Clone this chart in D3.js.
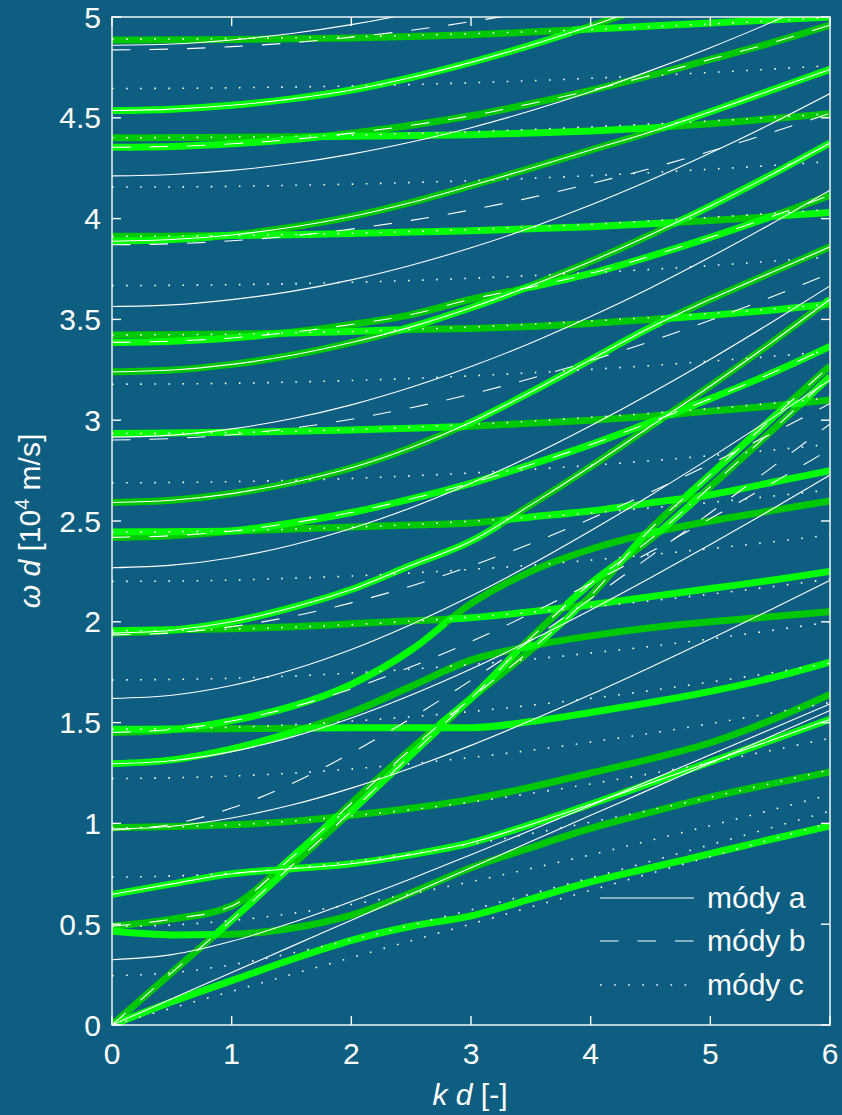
<!DOCTYPE html>
<html>
<head>
<meta charset="utf-8">
<script src="https://cdn.jsdelivr.net/npm/d3@7"></script>
<style>
  html, body { margin: 0; padding: 0; background: #0d5e81; }
  svg { display: block; }
  text { font-family: "Liberation Sans", Arial, Helvetica, sans-serif; fill: #ffffff; }
</style>
</head>
<body>
<svg id="chart" width="842" height="1115"></svg>
<script>
// ---------------- data ----------------
const kTicks = [0, 1, 2, 3, 4, 5, 6];
const wTicks = [0, 0.5, 1, 1.5, 2, 2.5, 3, 3.5, 4, 4.5, 5];
const wTickLabels = ["0", "0.5", "1", "1.5", "2", "2.5", "3", "3.5", "4", "4.5", "5"];
const legendLabels = ["módy a", "módy b", "módy c"];

// every branch is sampled at these k d values
const kCols = [0, 0.5, 1, 1.5, 2, 2.5, 3, 3.5, 4, 4.5, 5, 5.5, 6];

// uncoupled branches (ω d)
const modesA = [
  [0, 0.13, 0.26, 0.39, 0.52, 0.65, 0.78, 0.91, 1.04, 1.17, 1.30, 1.43, 1.56],
  [0.324, 0.349, 0.415, 0.507, 0.613, 0.726, 0.845, 0.966, 1.089, 1.214, 1.340, 1.466, 1.593],
  [0.648, 0.70, 0.75, 0.775, 0.80, 0.845, 0.904, 0.995, 1.095, 1.20, 1.305, 1.41, 1.516],
  [0.972, 0.986, 1.027, 1.091, 1.175, 1.275, 1.387, 1.51, 1.639, 1.775, 1.915, 2.059, 2.206],
  [1.296, 1.311, 1.356, 1.428, 1.523, 1.637, 1.766, 1.908, 2.059, 2.218, 2.383, 2.553, 2.728],
  [1.62, 1.636, 1.684, 1.761, 1.863, 1.987, 2.128, 2.284, 2.452, 2.628, 2.813, 3.004, 3.2],
  [1.944, 1.958, 2.0, 2.07, 2.16, 2.28, 2.40, 2.58, 2.77, 2.97, 3.17, 3.38, 3.60],
  [2.268, 2.281, 2.318, 2.38, 2.463, 2.566, 2.687, 2.822, 2.972, 3.132, 3.302, 3.481, 3.666],
  [2.592, 2.603, 2.636, 2.69, 2.764, 2.865, 2.99, 3.14, 3.30, 3.46, 3.60, 3.73, 3.86],
  [2.916, 2.926, 2.957, 3.007, 3.076, 3.163, 3.266, 3.383, 3.514, 3.656, 3.809, 3.971, 4.141],
  [3.24, 3.249, 3.277, 3.322, 3.385, 3.463, 3.558, 3.667, 3.787, 3.92, 4.062, 4.215, 4.375],
  [3.564, 3.572, 3.598, 3.639, 3.696, 3.769, 3.855, 3.955, 4.067, 4.191, 4.325, 4.468, 4.62],
  [3.888, 3.896, 3.919, 3.957, 4.01, 4.08, 4.163, 4.25, 4.34, 4.43, 4.53, 4.635, 4.74],
  [4.212, 4.219, 4.239, 4.273, 4.32, 4.38, 4.451, 4.535, 4.629, 4.734, 4.848, 4.971, 5.102],
  [4.536, 4.543, 4.562, 4.594, 4.638, 4.70, 4.775, 4.86, 4.955, 5.06, 5.17, 5.29, 5.41],
  [4.86, 4.866, 4.886, 4.918, 4.962, 5.018, 5.086, 5.166, 5.255, 5.355, 5.465, 5.584, 5.711]
];
const modesB = [
  [0, 0.26, 0.52, 0.79, 1.06, 1.34, 1.62, 1.92, 2.19, 2.41, 2.67, 2.94, 3.216],
  [0.49, 0.525, 0.59, 0.83, 1.10, 1.37, 1.62, 1.86, 2.13, 2.46, 2.73, 3.0, 3.27],
  [0.967, 0.996, 1.076, 1.197, 1.349, 1.522, 1.71, 1.908, 2.114, 2.326, 2.541, 2.76, 2.981],
  [1.451, 1.466, 1.508, 1.576, 1.667, 1.777, 1.902, 2.041, 2.19, 2.347, 2.512, 2.682, 2.856],
  [1.935, 1.945, 1.976, 2.026, 2.094, 2.178, 2.277, 2.388, 2.511, 2.643, 2.783, 2.93, 3.083],
  [2.419, 2.427, 2.45, 2.49, 2.542, 2.61, 2.687, 2.78, 2.879, 2.99, 3.107, 3.23, 3.366],
  [2.902, 2.909, 2.928, 2.96, 3.005, 3.062, 3.129, 3.207, 3.295, 3.391, 3.496, 3.609, 3.728],
  [3.386, 3.392, 3.408, 3.436, 3.475, 3.524, 3.60, 3.66, 3.728, 3.814, 3.907, 4.008, 4.116],
  [3.87, 3.875, 3.89, 3.914, 3.948, 3.991, 4.043, 4.104, 4.173, 4.249, 4.334, 4.425, 4.522],
  [4.354, 4.358, 4.371, 4.392, 4.424, 4.463, 4.51, 4.57, 4.636, 4.71, 4.79, 4.87, 4.96],
  [4.837, 4.841, 4.853, 4.872, 4.9, 4.934, 4.977, 5.026, 5.082, 5.146, 5.215, 5.291, 5.373]
];
const modesC = [
  [0, 0.084, 0.167, 0.251, 0.334, 0.418, 0.501, 0.585, 0.668, 0.752, 0.835, 0.919, 1.002],
  [0.2445, 0.259, 0.299, 0.356, 0.422, 0.495, 0.571, 0.65, 0.73, 0.812, 0.894, 0.977, 1.061],
  [0.489, 0.496, 0.518, 0.553, 0.598, 0.651, 0.711, 0.776, 0.844, 0.916, 0.989, 1.065, 1.142],
  [0.7335, 0.739, 0.753, 0.778, 0.81, 0.85, 0.897, 0.949, 1.006, 1.066, 1.13, 1.197, 1.266],
  [0.978, 0.982, 0.993, 1.011, 1.037, 1.068, 1.106, 1.149, 1.196, 1.247, 1.302, 1.361, 1.422],
  [1.2225, 1.226, 1.235, 1.249, 1.27, 1.296, 1.327, 1.363, 1.403, 1.447, 1.495, 1.546, 1.6],
  [1.467, 1.47, 1.477, 1.489, 1.507, 1.529, 1.555, 1.586, 1.62, 1.659, 1.701, 1.746, 1.794],
  [1.7115, 1.714, 1.72, 1.731, 1.746, 1.765, 1.788, 1.814, 1.845, 1.878, 1.915, 1.956, 1.999],
  [1.956, 1.958, 1.964, 1.973, 1.986, 2.003, 2.023, 2.047, 2.074, 2.104, 2.137, 2.173, 2.212],
  [2.2005, 2.202, 2.207, 2.216, 2.227, 2.242, 2.26, 2.281, 2.306, 2.333, 2.363, 2.395, 2.431],
  [2.445, 2.447, 2.451, 2.459, 2.469, 2.483, 2.499, 2.518, 2.54, 2.565, 2.592, 2.622, 2.654],
  [2.6895, 2.691, 2.695, 2.702, 2.711, 2.724, 2.738, 2.756, 2.776, 2.799, 2.824, 2.851, 2.881],
  [2.934, 2.935, 2.939, 2.945, 2.954, 2.965, 2.979, 2.995, 3.014, 3.034, 3.057, 3.083, 3.11],
  [3.1785, 3.18, 3.183, 3.189, 3.197, 3.207, 3.22, 3.235, 3.252, 3.271, 3.293, 3.316, 3.342],
  [3.423, 3.424, 3.427, 3.433, 3.44, 3.45, 3.462, 3.476, 3.492, 3.509, 3.529, 3.551, 3.575],
  [3.6675, 3.669, 3.672, 3.677, 3.684, 3.693, 3.704, 3.717, 3.732, 3.748, 3.767, 3.788, 3.81],
  [3.912, 3.913, 3.916, 3.921, 3.927, 3.936, 3.946, 3.958, 3.972, 3.988, 4.006, 4.025, 4.046],
  [4.1565, 4.157, 4.16, 4.165, 4.171, 4.179, 4.188, 4.2, 4.213, 4.228, 4.245, 4.263, 4.283],
  [4.401, 4.402, 4.404, 4.408, 4.414, 4.422, 4.431, 4.442, 4.455, 4.469, 4.484, 4.501, 4.52],
  [4.6455, 4.646, 4.649, 4.653, 4.658, 4.665, 4.674, 4.684, 4.696, 4.709, 4.725, 4.741, 4.759],
  [4.89, 4.891, 4.893, 4.897, 4.902, 4.909, 4.917, 4.927, 4.938, 4.951, 4.965, 4.981, 4.998]
];

// coupled branches (ω d); class 0 / 1 alternates with the mode order,
// so a branch changes class wherever it meets another branch
const branchValues = [
  [0, 0.115, 0.22, 0.325, 0.42, 0.49, 0.541, 0.625, 0.71, 0.78, 0.85, 0.92, 0.987],
  [0, 0.26, 0.52, 0.79, 1.06, 1.34, 1.62, 1.92, 2.19, 2.41, 2.67, 2.94, 3.216],
  [0.466, 0.447, 0.45, 0.48, 0.545, 0.655, 0.78, 0.88, 0.975, 1.055, 1.13, 1.195, 1.255],
  [0.49, 0.525, 0.59, 0.83, 1.10, 1.37, 1.62, 1.86, 2.13, 2.46, 2.73, 3.0, 3.27],
  [0.648, 0.70, 0.75, 0.775, 0.80, 0.845, 0.904, 0.995, 1.095, 1.20, 1.305, 1.41, 1.516],
  [0.978, 0.985, 0.993, 1.01, 1.04, 1.075, 1.119, 1.18, 1.25, 1.32, 1.40, 1.51, 1.64],
  [1.296, 1.315, 1.37, 1.45, 1.55, 1.68, 1.81, 1.88, 1.93, 1.97, 2.0, 2.025, 2.05],
  [1.451, 1.465, 1.51, 1.58, 1.69, 1.86, 2.09, 2.25, 2.36, 2.44, 2.50, 2.55, 2.60],
  [1.467, 1.468, 1.47, 1.472, 1.474, 1.475, 1.475, 1.505, 1.55, 1.60, 1.655, 1.72, 1.80],
  [1.944, 1.958, 2.0, 2.07, 2.16, 2.28, 2.40, 2.58, 2.77, 2.97, 3.17, 3.38, 3.60],
  [1.956, 1.96, 1.965, 1.975, 1.99, 2.005, 2.02, 2.05, 2.085, 2.125, 2.165, 2.205, 2.25],
  [2.419, 2.427, 2.45, 2.49, 2.542, 2.61, 2.687, 2.78, 2.879, 2.99, 3.107, 3.23, 3.366],
  [2.445, 2.447, 2.45, 2.46, 2.47, 2.48, 2.49, 2.52, 2.55, 2.59, 2.63, 2.69, 2.75],
  [2.592, 2.603, 2.636, 2.69, 2.764, 2.865, 2.99, 3.14, 3.30, 3.46, 3.60, 3.73, 3.86],
  [2.934, 2.936, 2.94, 2.945, 2.952, 2.96, 2.97, 2.985, 3.0, 3.02, 3.045, 3.07, 3.10],
  [3.24, 3.249, 3.277, 3.322, 3.385, 3.463, 3.558, 3.667, 3.787, 3.92, 4.062, 4.215, 4.375],
  [3.386, 3.392, 3.408, 3.436, 3.475, 3.524, 3.60, 3.66, 3.728, 3.814, 3.907, 4.008, 4.116],
  [3.423, 3.424, 3.427, 3.432, 3.44, 3.45, 3.455, 3.465, 3.48, 3.50, 3.52, 3.545, 3.575],
  [3.888, 3.896, 3.919, 3.957, 4.01, 4.08, 4.163, 4.25, 4.34, 4.43, 4.53, 4.635, 4.74],
  [3.912, 3.913, 3.916, 3.92, 3.926, 3.933, 3.94, 3.95, 3.96, 3.975, 3.99, 4.01, 4.03],
  [4.354, 4.358, 4.371, 4.392, 4.424, 4.463, 4.51, 4.57, 4.636, 4.71, 4.79, 4.87, 4.96],
  [4.401, 4.402, 4.404, 4.406, 4.409, 4.412, 4.416, 4.425, 4.435, 4.45, 4.47, 4.495, 4.52],
  [4.536, 4.543, 4.562, 4.594, 4.638, 4.70, 4.775, 4.86, 4.955, 5.06, 5.17, 5.29, 5.41],
  [4.886, 4.887, 4.889, 4.892, 4.896, 4.903, 4.912, 4.925, 4.94, 4.955, 4.97, 4.985, 5.0]
];
const branchStartClass = [0, 1, 0, 1, 0, 1, 0, 1, 0, 1, 0, 1, 0, 1, 0, 1, 0, 1, 0, 1, 0, 1, 0, 1];
const branchSwaps = [
  [],
  [0.86, 1.47, 1.96, 2.74, 3.0, 3.41, 3.78, 4.25, 4.58, 4.91, 5.76],
  [0.86],
  [1.37, 1.87, 2.71, 3.0, 3.55, 3.9, 4.25, 4.46, 4.78, 5.65],
  [1.37, 1.47],
  [1.87, 1.96],
  [1.6, 3.41, 3.55],
  [0.6, 2.8, 4.46, 4.58],
  [0.6, 1.6, 2.71, 2.74],
  [0.53, 3.25, 4.55, 4.6, 5.95],
  [0.53, 2.8, 3.78, 3.9],
  [1.0, 4.55, 4.7],
  [1.0, 3.25, 4.78, 4.91],
  [2.95, 4.6],
  [2.95, 4.6, 4.7, 5.65, 5.76],
  [2.4, 3.48, 4.7],
  [1.4, 3.48, 5.5],
  [1.4, 2.4, 4.6, 5.95],
  [0.85, 4.6],
  [0.85, 4.7, 5.5],
  [1.75],
  [1.75, 4.6],
  [3.85],
  [3.85]
];

// ---------------- layout ----------------
const svg = d3.select("#chart");
const plot = { left: 112, right: 830, top: 17, bottom: 1025 };
const x = d3.scaleLinear().domain([0, 6]).range([plot.left, plot.right]);
const y = d3.scaleLinear().domain([0, 5]).range([plot.bottom, plot.top]);
const classColor = ["#00ff00", "#00c800"];

svg.append("rect").attr("width", 842).attr("height", 1115).attr("fill", "#0d5e81");
const defs = svg.append("defs");
defs.append("clipPath").attr("id", "plotClip")
  .append("rect")
  .attr("x", plot.left).attr("y", plot.top)
  .attr("width", plot.right - plot.left).attr("height", plot.bottom - plot.top);

const sampled = d3.line()
  .x((d, i) => x(kCols[i]))
  .y(d => y(d))
  .curve(d3.curveMonotoneX);

// ---- coupled branches: thick green, split where the class changes ----
const pieces = [];
branchValues.forEach((vals, i) => {
  const bounds = [0, ...branchSwaps[i], 6];
  for (let s = 0; s < bounds.length - 1; s++) {
    pieces.push({
      vals,
      k0: bounds[s],
      k1: bounds[s + 1],
      cls: (branchStartClass[i] + s) % 2,
      id: `piece-${i}-${s}`
    });
  }
});
pieces.forEach(p => {
  defs.append("clipPath").attr("id", p.id).append("rect")
    .attr("x", x(p.k0)).attr("y", plot.top)
    .attr("width", x(p.k1) - x(p.k0)).attr("height", plot.bottom - plot.top);
});
const gBranches = svg.append("g");
[1, 0].forEach(cls => {
  pieces.filter(p => p.cls === cls).forEach(p => {
    gBranches.append("path")
      .attr("d", sampled(p.vals))
      .attr("clip-path", `url(#${p.id})`)
      .attr("fill", "none")
      .attr("stroke", classColor[cls])
      .attr("stroke-width", 7);
  });
});

// ---- uncoupled branches: thin white ----
const gModes = svg.append("g").attr("clip-path", "url(#plotClip)");
gModes.selectAll("path.ma").data(modesA).join("path")
  .attr("class", "ma").attr("d", sampled)
  .attr("fill", "none").attr("stroke", "#ffffff").attr("stroke-width", 1.1);
gModes.selectAll("path.mb").data(modesB).join("path")
  .attr("class", "mb").attr("d", sampled)
  .attr("fill", "none").attr("stroke", "#ffffff").attr("stroke-width", 1.1)
  .attr("stroke-dasharray", "18.5,19");
gModes.selectAll("path.mc").data(modesC).join("path")
  .attr("class", "mc").attr("d", sampled)
  .attr("fill", "none").attr("stroke", "#ffffff").attr("stroke-width", 1.6)
  .attr("stroke-dasharray", "1.6,12.5");

// ---------------- axes ----------------
const axisColor = "#ffffff";
const tickLen = 9;
const frame = svg.append("g");
frame.append("rect")
  .attr("x", plot.left).attr("y", plot.top)
  .attr("width", plot.right - plot.left).attr("height", plot.bottom - plot.top)
  .attr("fill", "none").attr("stroke", axisColor).attr("stroke-width", 1.4);

kTicks.forEach(k => {
  frame.append("line").attr("x1", x(k)).attr("x2", x(k))
    .attr("y1", plot.bottom).attr("y2", plot.bottom - tickLen)
    .attr("stroke", axisColor).attr("stroke-width", 1.4);
  frame.append("line").attr("x1", x(k)).attr("x2", x(k))
    .attr("y1", plot.top).attr("y2", plot.top + tickLen)
    .attr("stroke", axisColor).attr("stroke-width", 1.4);
  frame.append("text").attr("x", x(k)).attr("y", 1064)
    .attr("text-anchor", "middle").attr("font-size", 30).text(k);
});
wTicks.forEach((w, i) => {
  frame.append("line").attr("x1", plot.left).attr("x2", plot.left + tickLen)
    .attr("y1", y(w)).attr("y2", y(w))
    .attr("stroke", axisColor).attr("stroke-width", 1.4);
  frame.append("line").attr("x1", plot.right).attr("x2", plot.right - tickLen)
    .attr("y1", y(w)).attr("y2", y(w))
    .attr("stroke", axisColor).attr("stroke-width", 1.4);
  frame.append("text").attr("x", 101).attr("y", y(w) + 10.5)
    .attr("text-anchor", "end").attr("font-size", 30).text(wTickLabels[i]);
});

// axis titles
const xt = svg.append("text").attr("x", 470).attr("y", 1105)
  .attr("text-anchor", "middle").attr("font-size", 30);
xt.append("tspan").attr("font-style", "italic").text("k");
xt.append("tspan").text(" ");
xt.append("tspan").attr("font-style", "italic").text("d");
xt.append("tspan").text(" [-]");

const yt = svg.append("text")
  .attr("transform", `translate(40, ${(plot.top + plot.bottom) / 2}) rotate(-90)`)
  .attr("text-anchor", "middle").attr("font-size", 30);
yt.append("tspan").attr("font-style", "italic").text("ω");
yt.append("tspan").text(" ");
yt.append("tspan").attr("font-style", "italic").text("d");
yt.append("tspan").text(" [10");
yt.append("tspan").attr("font-size", 20).attr("dy", -11).text("4");
yt.append("tspan").attr("dy", 11).text(" m/s]");

// ---------------- legend ----------------
const legend = svg.append("g");
const legendRows = [898, 941, 985];
const legendDash = [null, "18.5,19", "1.6,12.5"];
legendLabels.forEach((lab, i) => {
  legend.append("line")
    .attr("x1", 600).attr("x2", 694).attr("y1", legendRows[i]).attr("y2", legendRows[i])
    .attr("stroke", "#ffffff").attr("stroke-width", i === 2 ? 1.6 : 1.1)
    .attr("stroke-dasharray", legendDash[i]);
  legend.append("text").attr("x", 707).attr("y", legendRows[i] + 10)
    .attr("font-size", 30).text(lab);
});
</script>
</body>
</html>
